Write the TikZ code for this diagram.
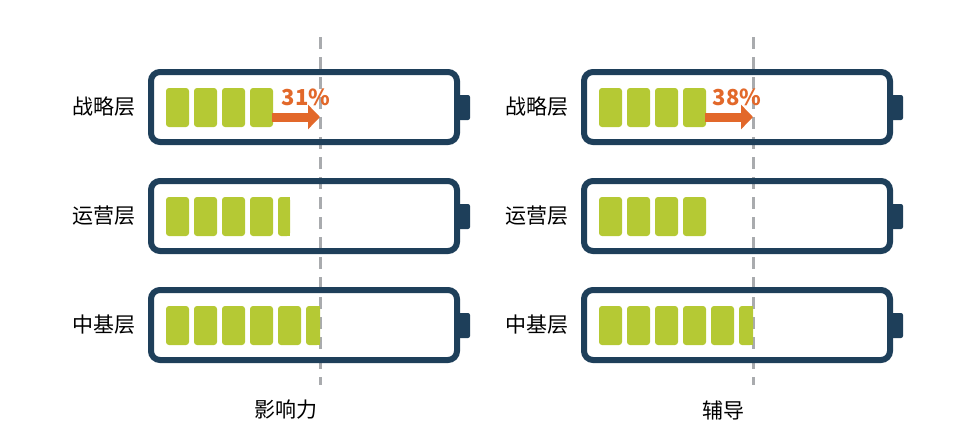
\documentclass[tikz,border=0pt]{standalone}
\usepackage{fontspec}
\newfontfamily\cjk{Noto Sans CJK SC}
\usetikzlibrary{arrows.meta}
\definecolor{navy}{HTML}{1E3F5A}
\definecolor{leaf}{HTML}{B5C934}
\definecolor{rust}{HTML}{E2682A}
\definecolor{mist}{HTML}{A9ABAE}

% battery: #1 = x offset, #2 = top y, #3 = full cells, #4 = right end of partial cell
\newcommand{\battery}[4]{%
  \draw[navy, line width=6pt, rounded corners=9pt] (#1+151,#2) rectangle (#1+457,#2+70);
  \fill[navy, rounded corners=2pt] (#1+457,#2+23) rectangle (#1+470,#2+48);
  \foreach \k in {1,...,#3}
    \fill[leaf, rounded corners=3pt] (#1+138+28*\k,#2+16) rectangle (#1+161+28*\k,#2+55);
  \ifdim #4pt>0pt
    \fill[leaf, rounded corners=3pt] (#1+166+28*#3,#2+16) rectangle (#1+#4,#2+55);
    \fill[leaf] (#1+#4-4,#2+16) rectangle (#1+#4,#2+55);
  \fi
}

\begin{document}
\begin{tikzpicture}[x=1pt, y=-1pt, font=\cjk\fontsize{21}{24}\selectfont,
  rowlabel/.style={anchor=center, text=black},
  growth/.style={rust, line width=9pt, -{Triangle[length=12pt, width=24pt]}}]
\useasboundingbox (0,0) rectangle (972,447);

% guide lines
\draw[mist, line width=3pt, dash pattern=on 12pt off 8pt] (320,37) -- (320,385);
\draw[mist, line width=3pt, dash pattern=on 12pt off 8pt] (753,37) -- (753,385);

% left column
\battery{0}{72}{4}{0}
\battery{0}{181}{4}{290}
\battery{0}{290}{5}{320}

% right column
\battery{433}{72}{4}{0}
\battery{433}{181}{4}{0}
\battery{433}{290}{5}{320}

% growth arrows
\coordinate (grow-L-a) at (272,117);
\coordinate (grow-L-b) at (320,117);
\coordinate (grow-R-a) at (705,117);
\coordinate (grow-R-b) at (753,117);
\draw[growth] (grow-L-a) -- (grow-L-b);
\draw[growth] (grow-R-a) -- (grow-R-b);
\node[rust, font=\cjk\bfseries\fontsize{22}{24}\selectfont] (pct-L) at (306,97) {31\%};
\node[rust, font=\cjk\bfseries\fontsize{22}{24}\selectfont] (pct-R) at (737,97) {38\%};

% row labels
\foreach \dx/\side in {0/L,433/R} {
  \node[rowlabel] (strat-\side) at (\dx+104,107) {战略层};
  \node[rowlabel] (ops-\side) at (\dx+104,216) {运营层};
  \node[rowlabel] (base-\side) at (\dx+104,325) {中基层};
}

% column labels
\node[rowlabel] (influence) at (286,410) {影响力};
\node[rowlabel] (coaching) at (723,410) {辅导};
\end{tikzpicture}
\end{document}
